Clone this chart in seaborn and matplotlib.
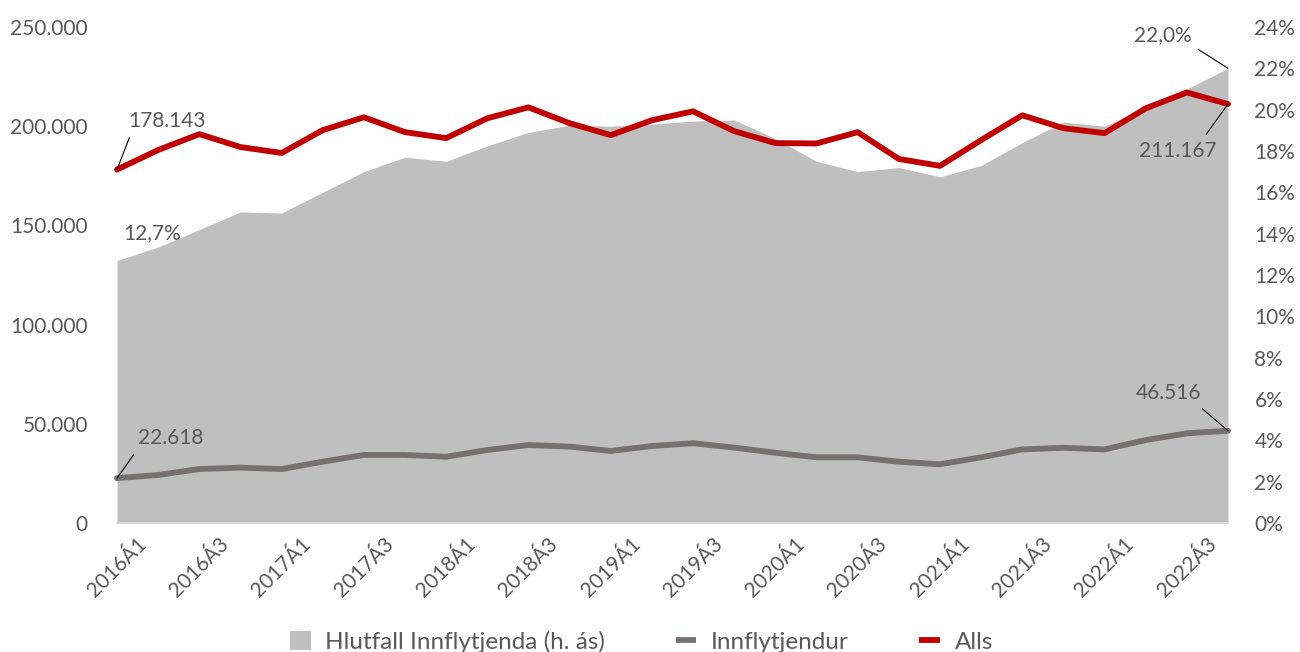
import numpy as np
import pandas as pd
import seaborn as sns
import matplotlib.pyplot as plt
from matplotlib.patches import Patch
from matplotlib.lines import Line2D
from matplotlib.ticker import FuncFormatter, MultipleLocator

# Data
quarters = [
    "2016Á1", "2016Á2", "2016Á3", "2016Á4",
    "2017Á1", "2017Á2", "2017Á3", "2017Á4",
    "2018Á1", "2018Á2", "2018Á3", "2018Á4",
    "2019Á1", "2019Á2", "2019Á3", "2019Á4",
    "2020Á1", "2020Á2", "2020Á3", "2020Á4",
    "2021Á1", "2021Á2", "2021Á3", "2021Á4",
    "2022Á1", "2022Á2", "2022Á3", "2022Á4",
]
alls = [178143, 188000, 196000, 189500, 186500, 198000, 204500, 197000,
        194000, 204000, 209500, 201500, 195500, 203000, 207500, 197500,
        191500, 191300, 197000, 183500, 180000, 193000, 205500, 199000,
        196500, 209000, 217000, 211167]
innflytjendur = [22618, 24200, 27200, 27900, 27200, 30900, 34300, 34300,
                 33400, 36800, 39300, 38500, 36300, 38800, 40200, 38000,
                 35400, 33100, 33100, 30900, 29600, 33100, 37100, 37900,
                 37100, 41800, 45200, 46516]
hlutfall = [12.7, 13.35, 14.2, 15.05, 15.0, 16.0, 17.0, 17.7,
            17.5, 18.25, 18.9, 19.25, 19.2, 19.3, 19.45, 19.5,
            18.6, 17.5, 17.0, 17.2, 16.75, 17.3, 18.4, 19.4,
            19.2, 20.1, 21.0, 22.0]

df = pd.DataFrame({
    "pos": np.arange(len(quarters)),
    "quarter": quarters,
    "alls": alls,
    "innfl": innflytjendur,
    "hlutfall": hlutfall,
})

RED = "#C00000"
GREY_LINE = "#767171"
AREA = "#BFBFBF"
TXT = "#595959"
LW = 4.2

sns.set_theme(style="white")
plt.rcParams["font.family"] = ["Lato", "DejaVu Sans"]

fig = plt.figure(figsize=(13, 6.52), dpi=100)
ax = fig.add_axes([117 / 1300, 1 - 523 / 652, (1228 - 117) / 1300, (523 - 27) / 652])
ax2 = ax.twinx()
ax.set_zorder(ax2.get_zorder() + 1)
ax.patch.set_visible(False)

# share of immigrants, right axis
ax2.fill_between(df["pos"], 0, df["hlutfall"], color=AREA, linewidth=0)
ax2.set_ylim(0, 24)
ax2.yaxis.set_major_locator(MultipleLocator(2))
ax2.yaxis.set_major_formatter(FuncFormatter(lambda v, p: f"{v:.0f}%"))

# counts, left axis
sns.lineplot(data=df, x="pos", y="innfl", ax=ax, color=GREY_LINE, linewidth=LW,
             solid_joinstyle="round", clip_on=False)
sns.lineplot(data=df, x="pos", y="alls", ax=ax, color=RED, linewidth=LW,
             solid_joinstyle="round", clip_on=False)
ax.set_ylim(0, 250000)
ax.set_xlim(0, len(quarters) - 1)
ax.yaxis.set_major_locator(MultipleLocator(50000))
ax.yaxis.set_major_formatter(FuncFormatter(lambda v, p: f"{v:,.0f}".replace(",", ".")))
ax.set_xticks(df["pos"][::2])
ax.set_xticklabels(df["quarter"][::2])
ax.set_xlabel("")
ax.set_ylabel("")

for a in (ax, ax2):
    for s in a.spines.values():
        s.set_visible(False)
ax.spines["bottom"].set_visible(True)
ax.spines["bottom"].set_color("#D9D9D9")
ax.spines["bottom"].set_linewidth(1.5)

ax.tick_params(axis="x", length=0, labelsize=15, labelcolor=TXT, labelrotation=45, pad=8)
ax.tick_params(axis="y", length=0, labelsize=15, labelcolor=TXT, pad=21)
ax2.tick_params(axis="y", length=0, labelsize=15, labelcolor=TXT, pad=19)

# data labels with leader lines
last = len(quarters) - 1
labels = [
    (ax, 0, alls[0], "178.143", (50, 49), (0.05, 0.0)),
    (ax2, 0, hlutfall[0], "12,7%", (35, 27), None),
    (ax, 0, innflytjendur[0], "22.618", (54, 40), (0.0, 0.0)),
    (ax2, last, hlutfall[-1], "22,0%", (-65, 33), (1.0, 0.0)),
    (ax, last, alls[-1], "211.167", (-50, -47), (0.8, 1.0)),
    (ax, last, innflytjendur[-1], "46.516", (-59, 38), (0.9, 0.0)),
]
for a, xp, yp, txt, off, rel in labels:
    kw = {}
    if rel is not None:
        kw["arrowprops"] = dict(arrowstyle="-", color="black", lw=0.8,
                                relpos=rel, shrinkA=3, shrinkB=0)
    t = a.annotate(txt, xy=(xp, yp), xytext=off, textcoords="offset pixels",
                   ha="center", va="center", fontsize=15, color=TXT,
                   annotation_clip=False, **kw)
    t.set_zorder(10)

handles = [
    Patch(facecolor=AREA, edgecolor="none"),
    Line2D([], [], color=GREY_LINE, linewidth=LW, solid_capstyle="butt"),
    Line2D([], [], color=RED, linewidth=LW, solid_capstyle="butt"),
]
names = ["Hlutfall Innflytjenda (h. ás)", "Innflytjendur", "Alls"]
fig.legend(handles, names, loc="center", bbox_to_anchor=(0.4935, 0.016), ncol=3,
           frameon=False, fontsize=17.5, labelcolor=TXT, handlelength=0.85,
           handleheight=0.85, handletextpad=0.6, columnspacing=2.9)

fig.savefig("out.png", dpi=100)
